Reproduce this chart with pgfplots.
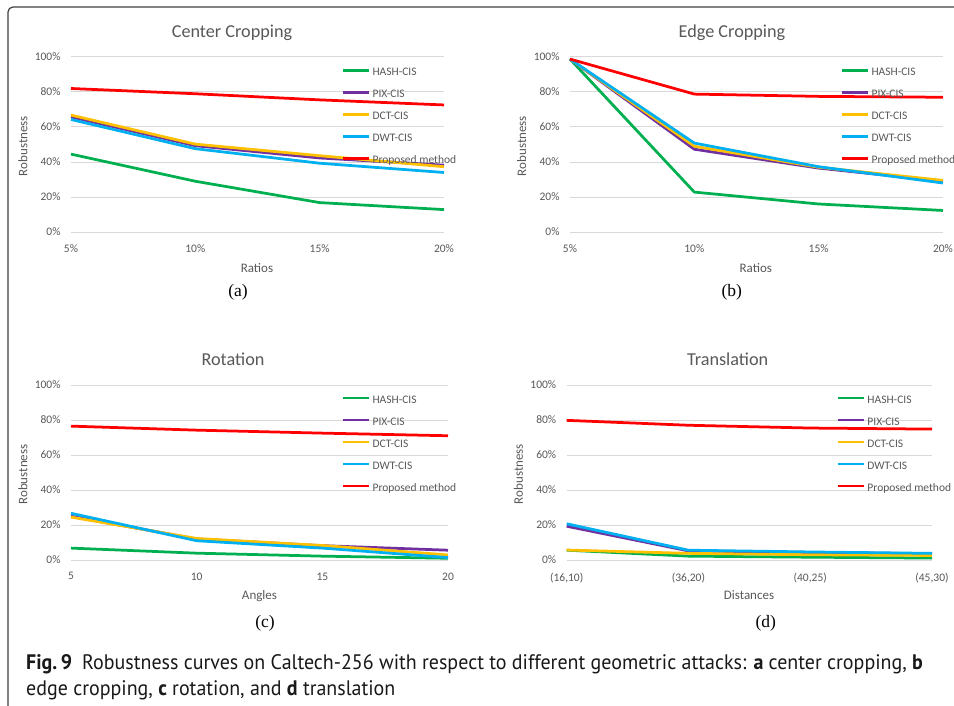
\documentclass[border=0pt]{standalone}
\usepackage{fontspec}
\setmainfont{Carlito}
\newfontfamily\serif{Liberation Serif}
\usepackage{pgfplots}
\pgfplotsset{compat=1.18}

% caption font: PT Sans condensed to fit the reference width
\newfontfamily\capbase{PT Sans}
\newcommand\caplineone{\textbf{Fig.\,9}\hspace{0.48em}Robustness curves on Caltech-256 with respect to different geometric attacks: \textbf{a} center cropping, \textbf{b}}
\newcommand\caplinetwo{edge cropping, \textbf{c} rotation, and \textbf{d} translation}
\newsavebox\capbox
\sbox\capbox{\fontsize{21}{26}\capbase\caplineone}
\newdimen\capw
\capw=\wd\capbox
\pgfmathsetmacro\capstretch{896/\capw}
\edef\tmp{\noexpand\newfontfamily\noexpand\capfont[FakeStretch=\capstretch]{PT Sans}}
\tmp

\definecolor{hash}{RGB}{0,176,80}
\definecolor{pix}{RGB}{112,48,160}
\definecolor{dct}{RGB}{255,192,0}
\definecolor{dwt}{RGB}{0,176,240}
\definecolor{prop}{RGB}{255,0,0}
\definecolor{txt}{RGB}{89,89,89}
\definecolor{gridc}{RGB}{217,217,217}

\pgfplotsset{
  panel/.style={
    scale only axis, height=175pt, anchor=south west,
    ymin=0, ymax=100, ytick={0,20,40,60,80,100},
    yticklabels={0\%,20\%,40\%,60\%,80\%,100\%},
    axis line style={draw=none}, major tick length=0pt,
    ymajorgrids, grid style={draw=gridc, line width=1pt},
    ticklabel style={font=\fontsize{11.5}{13}\selectfont, text=txt, inner sep=0pt},
    xticklabel style={yshift=-12.4pt},
    yticklabel style={xshift=-10.3pt},
    clip=false,
    legend cell align=left,
    legend image code/.code={\draw[##1] (0pt,2.6pt) -- (26pt,2.6pt);},
    legend style={draw=none, fill=none, anchor=north west, inner sep=0pt,
      row sep=11.5pt, column sep=2.6pt,
      font=\fontsize{11.5}{13}\selectfont, text=txt,
      nodes={inner sep=0pt, text height=8pt, text depth=2.5pt}},
    every axis plot/.append style={line width=2.75pt, line join=round, no marks},
  },
}

\begin{document}
\begin{tikzpicture}
\useasboundingbox (0pt,0pt) rectangle (954pt,-706pt);
\fill[white] (0pt,0pt) rectangle (954pt,-706pt);
\draw[color=black!75, line width=1.2pt, rounded corners=5pt] (8pt,-720pt) -- (8pt,-7pt) -- (975pt,-7pt);

% (a) Center Cropping
\begin{axis}[panel, at={(71pt,-232pt)}, width=373pt,
  xmin=5, xmax=20, xtick={5,10,15,20}, xticklabels={5\%,10\%,15\%,20\%},
  legend style={at={(0.7239,0.9408)}}]
\addplot[color=hash] coordinates {(5,44.5) (10,29) (15,16.8) (20,12.8)};
\addlegendentry{HASH-CIS}
\addplot[color=pix] coordinates {(5,65.8) (10,49.3) (15,42.3) (20,38.2)};
\addlegendentry{PIX-CIS}
\addplot[color=dct] coordinates {(5,66.8) (10,50.2) (15,43.6) (20,37.3)};
\addlegendentry{DCT-CIS}
\addplot[color=dwt] coordinates {(5,64.3) (10,47.6) (15,39.3) (20,34)};
\addlegendentry{DWT-CIS}
\addplot[color=prop] coordinates {(5,82) (10,79) (15,75.5) (20,72.6)};
\addlegendentry{Proposed method}
\end{axis}

% (b) Edge Cropping
\begin{axis}[panel, at={(570pt,-232pt)}, width=373pt,
  xmin=5, xmax=20, xtick={5,10,15,20}, xticklabels={5\%,10\%,15\%,20\%},
  legend style={at={(0.7239,0.9408)}}]
\addplot[color=hash] coordinates {(5,98.8) (10,22.8) (15,16) (20,12.3)};
\addlegendentry{HASH-CIS}
\addplot[color=pix] coordinates {(5,98.8) (10,47.3) (15,36.5) (20,29)};
\addlegendentry{PIX-CIS}
\addplot[color=dct] coordinates {(5,98.8) (10,49) (15,37) (20,29.5)};
\addlegendentry{DCT-CIS}
\addplot[color=dwt] coordinates {(5,98.8) (10,50.8) (15,37.3) (20,28)};
\addlegendentry{DWT-CIS}
\addplot[color=prop] coordinates {(5,98.8) (10,78.8) (15,77.5) (20,77)};
\addlegendentry{Proposed method}
\end{axis}

% (c) Rotation
\begin{axis}[panel, at={(71pt,-560pt)}, width=377pt,
  xmin=5, xmax=20, xtick={5,10,15,20}, xticklabels={5,10,15,20},
  legend style={at={(0.7162,0.9425)}}]
\addplot[color=hash] coordinates {(5,6.8) (10,3.9) (15,2.2) (20,1)};
\addlegendentry{HASH-CIS}
\addplot[color=pix] coordinates {(5,25) (10,12) (15,8.2) (20,5.6)};
\addlegendentry{PIX-CIS}
\addplot[color=dct] coordinates {(5,24.5) (10,12.3) (15,8.3) (20,2.9)};
\addlegendentry{DCT-CIS}
\addplot[color=dwt] coordinates {(5,26.7) (10,11) (15,6.8) (20,1.4)};
\addlegendentry{DWT-CIS}
\addplot[color=prop] coordinates {(5,76.5) (10,74.2) (15,72.5) (20,71)};
\addlegendentry{Proposed method}
\end{axis}

% (d) Translation
\begin{axis}[panel, at={(566.7pt,-560pt)}, width=365.3pt,
  xmin=0, xmax=3, xtick={0,1,2,3}, xticklabels={{(16,10)},{(36,20)},{(40,25)},{(45,30)}},
  legend style={at={(0.737,0.9425)}}]
\addplot[color=hash] coordinates {(0,5.6) (1,2.2) (2,1.6) (3,1.1)};
\addlegendentry{HASH-CIS}
\addplot[color=pix] coordinates {(0,19.3) (1,5.2) (2,4.3) (3,3.6)};
\addlegendentry{PIX-CIS}
\addplot[color=dct] coordinates {(0,5.7) (1,3.8) (2,3) (3,2.6)};
\addlegendentry{DCT-CIS}
\addplot[color=dwt] coordinates {(0,20.7) (1,5.6) (2,4.6) (3,3.8)};
\addlegendentry{DWT-CIS}
\addplot[color=prop] coordinates {(0,79.8) (1,77) (2,75.4) (3,74.8)};
\addlegendentry{Proposed method}
\end{axis}

% titles
\begin{scope}[every node/.style={text=txt, inner sep=0pt}]
\node[anchor=base, font=\fontsize{18.2}{20}\selectfont] at (232pt,-37.5pt) {Center Cropping};
\node[anchor=base, font=\fontsize{18.2}{20}\selectfont] at (732pt,-37.5pt) {Edge Cropping};
\node[anchor=base, font=\fontsize{18.2}{20}\selectfont] at (233pt,-365pt) {Rotation};
\node[anchor=base, font=\fontsize{18.2}{20}\selectfont] at (727.7pt,-365pt) {Translation};
% axis labels
\node[rotate=90, font=\fontsize{13}{15}\selectfont] at (23pt,-146pt) {Robustness};
\node[rotate=90, font=\fontsize{13}{15}\selectfont] at (521.7pt,-146pt) {Robustness};
\node[rotate=90, font=\fontsize{13}{15}\selectfont] at (23pt,-474.5pt) {Robustness};
\node[rotate=90, font=\fontsize{13}{15}\selectfont] at (518.3pt,-474pt) {Robustness};
\node[anchor=base, font=\fontsize{13}{15}\selectfont] at (257pt,-272pt) {Ratios};
\node[anchor=base, font=\fontsize{13}{15}\selectfont] at (755.8pt,-272pt) {Ratios};
\node[anchor=base, font=\fontsize{13}{15}\selectfont] at (259.5pt,-599pt) {Angles};
\node[anchor=base, font=\fontsize{13}{15}\selectfont] at (749pt,-599pt) {Distances};
\end{scope}
% sub-figure letters
\begin{scope}[every node/.style={text=black, inner sep=0pt, anchor=base, font=\serif\fontsize{17.5}{20}\selectfont}]
\node at (238pt,-296pt) {(a)};
\node at (731.7pt,-296pt) {(b)};
\node at (265pt,-627pt) {(c)};
\node at (765.7pt,-627pt) {(d)};
\end{scope}
% caption
\node[anchor=base west, inner sep=0pt, text=black!90, font=\capfont\fontsize{21}{26}\selectfont] at (26pt,-669.3pt) {\caplineone};
\node[anchor=base west, inner sep=0pt, text=black!90, font=\capfont\fontsize{21}{26}\selectfont] at (26pt,-695pt) {\caplinetwo};
\end{tikzpicture}
\end{document}
